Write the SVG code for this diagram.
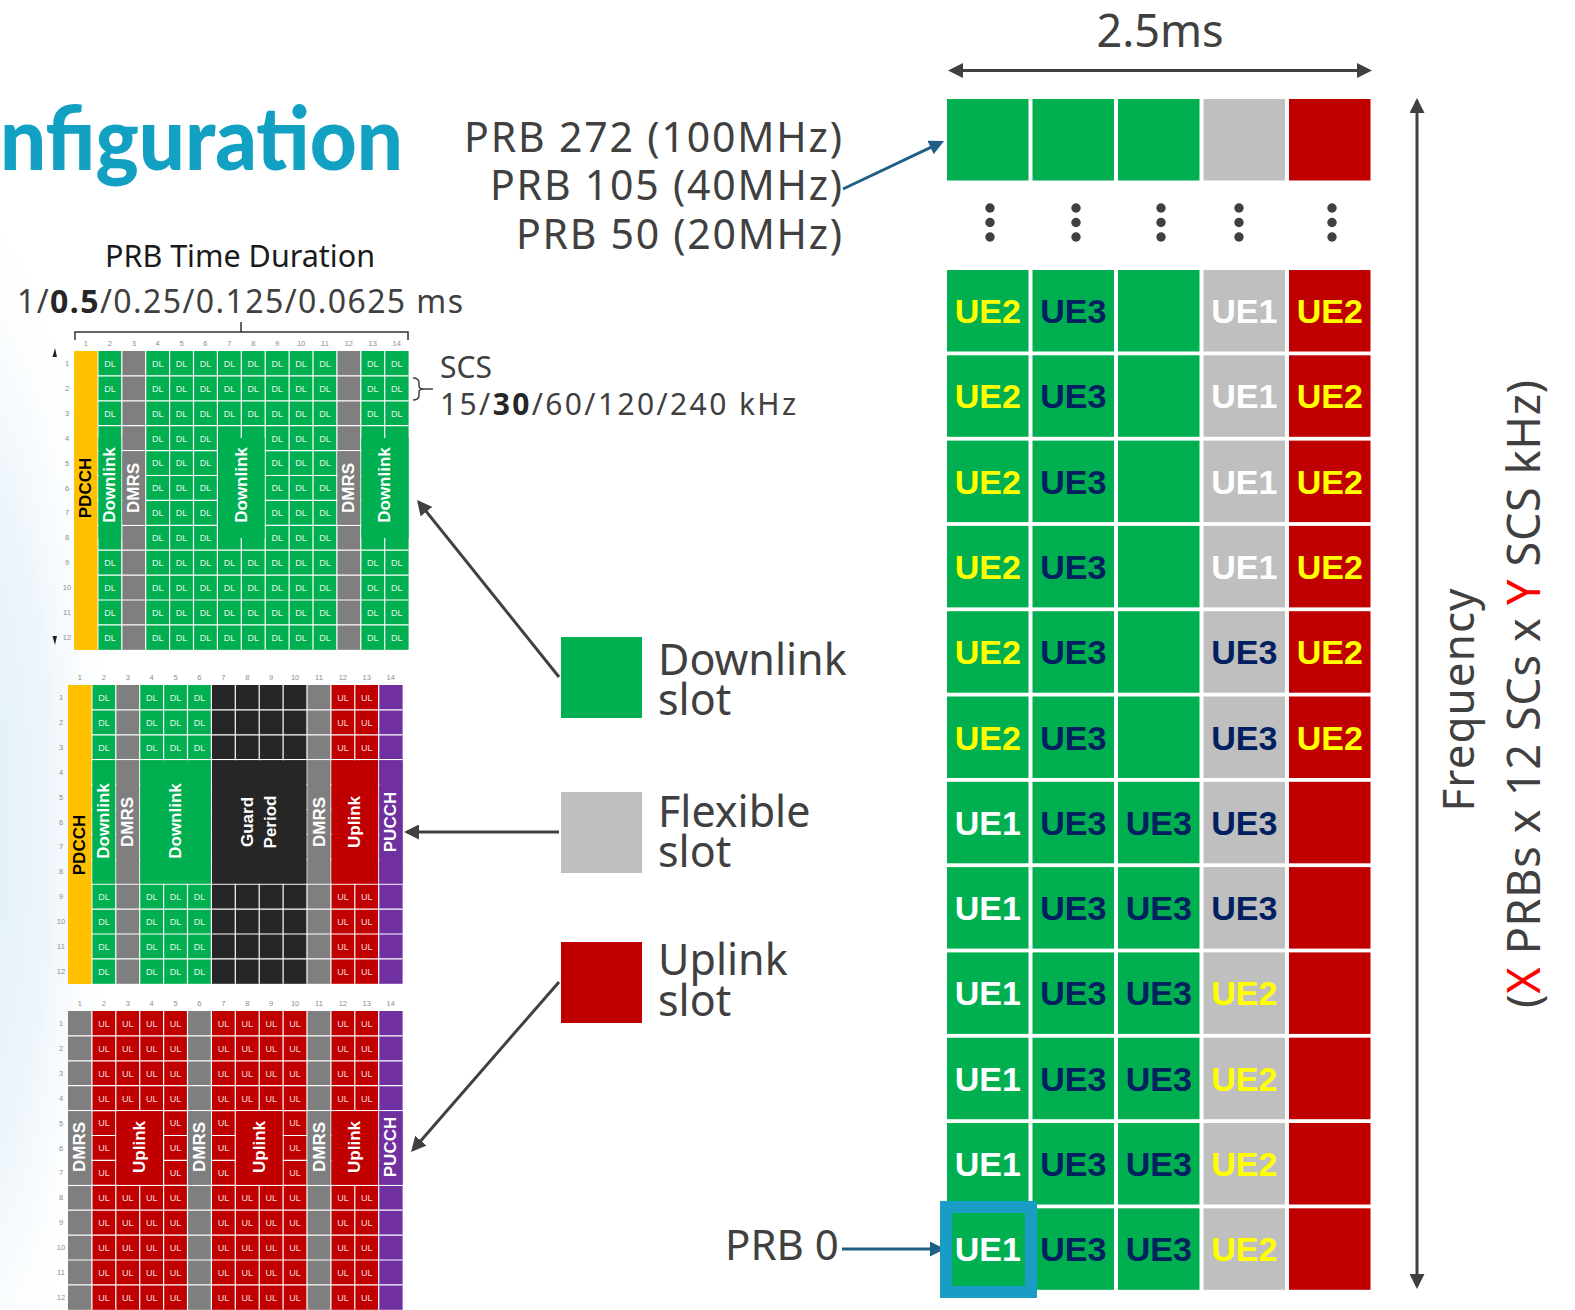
<svg xmlns="http://www.w3.org/2000/svg" width="1575" height="1310" viewBox="0 0 1575 1310">
<defs>
<style>
.t{font-family:"Noto Sans","Liberation Sans",sans-serif;fill:#404040}
.ue{font-family:"Liberation Sans",Arial,sans-serif;font-weight:bold;font-size:34px;text-anchor:middle}
.y{fill:#FFFF00}.n{fill:#002060}.w{fill:#FFFFFF}
.gr{fill:#00B050}.gy{fill:#BFBFBF}.rd{fill:#C00000}
.sgy{fill:#7F7F7F}.syl{fill:#FFC000}.spu{fill:#7030A0}.sbk{fill:#262626}
.dl{font-family:"Liberation Sans",Arial,sans-serif;font-size:9px;text-anchor:middle;fill:#E3F4E9}
.ul{font-family:"Liberation Sans",Arial,sans-serif;font-size:9px;text-anchor:middle;fill:#F7DEDE}
.num{font-family:"Liberation Sans",Arial,sans-serif;font-size:7.5px;text-anchor:middle;fill:#8C8C8C}
.lb{font-family:"Liberation Sans",Arial,sans-serif;font-weight:bold;font-size:17px;text-anchor:middle;dominant-baseline:central;fill:#FFFFFF}
.lk{fill:#000000}
.arr{stroke:#404040;stroke-width:3;fill:none}
.barr{stroke:#1F5F86;stroke-width:3;fill:none}
.gl{stroke:#FFFFFF;stroke-width:1.2;fill:none}
.dot{fill:#404040}
</style>
<marker id="ah" viewBox="0 0 10 10" refX="8" refY="5" markerWidth="5" markerHeight="5" orient="auto-start-reverse"><path d="M0,0L10,5L0,10z" fill="#404040"/></marker>
<marker id="bh" viewBox="0 0 10 10" refX="8" refY="5" markerWidth="5" markerHeight="5" orient="auto-start-reverse"><path d="M0,0L10,5L0,10z" fill="#1F5F86"/></marker>
<radialGradient id="bgg" cx="0.5" cy="0.5" r="0.5"><stop offset="0" stop-color="#DCEBF6"/><stop offset="0.6" stop-color="#E6F1F9" stop-opacity="0.7"/><stop offset="1" stop-color="#F2F8FC" stop-opacity="0"/></radialGradient>
<path id="gridl" class="gl" d="M23.9,0V298.8M47.8,0V298.8M71.7,0V298.8M95.6,0V298.8M119.5,0V298.8M143.4,0V298.8M167.3,0V298.8M191.2,0V298.8M215.1,0V298.8M239,0V298.8M262.9,0V298.8M286.8,0V298.8M310.7,0V298.8M0,24.9H334.6M0,49.8H334.6M0,74.7H334.6M0,99.6H334.6M0,124.5H334.6M0,149.4H334.6M0,174.3H334.6M0,199.2H334.6M0,224.1H334.6M0,249H334.6M0,273.9H334.6"/>
<g id="colnums"><text class="num" y="-5"><tspan x="11.95">1</tspan><tspan x="35.85">2</tspan><tspan x="59.75">3</tspan><tspan x="83.65">4</tspan><tspan x="107.55">5</tspan><tspan x="131.45">6</tspan><tspan x="155.35">7</tspan><tspan x="179.25">8</tspan><tspan x="203.15">9</tspan><tspan x="227.05">10</tspan><tspan x="250.95">11</tspan><tspan x="274.85">12</tspan><tspan x="298.75">13</tspan><tspan x="322.65">14</tspan></text></g>
<g id="rownums"><text class="num"><tspan x="-7" y="15">1</tspan><tspan x="-7" y="39.9">2</tspan><tspan x="-7" y="64.8">3</tspan><tspan x="-7" y="89.7">4</tspan><tspan x="-7" y="114.6">5</tspan><tspan x="-7" y="139.5">6</tspan><tspan x="-7" y="164.4">7</tspan><tspan x="-7" y="189.3">8</tspan><tspan x="-7" y="214.2">9</tspan><tspan x="-7" y="239.1">10</tspan><tspan x="-7" y="264">11</tspan><tspan x="-7" y="288.9">12</tspan></text></g>
<g id="prow"><rect class="gr" x="947" width="81.5" height="81.5"/><rect class="gr" x="1032.5" width="81.5" height="81.5"/><rect class="gr" x="1118" width="81.5" height="81.5"/><rect class="gy" x="1203.5" width="81.5" height="81.5"/><rect class="rd" x="1289" width="81.5" height="81.5"/></g>
</defs>

<rect x="0" y="0" width="1575" height="1310" fill="#FFFFFF"/>
<ellipse cx="-40" cy="820" rx="150" ry="620" fill="url(#bgg)"/>

<text x="0" y="170" font-family="Lato,'Liberation Sans',sans-serif" font-weight="900" font-size="88" fill="#12A0C3" textLength="403" lengthAdjust="spacingAndGlyphs">nfiguration</text>

<g id="time-duration">
<text class="t" x="240" y="267" font-size="30.5" text-anchor="middle" style="fill:#1A1A1A">PRB Time Duration</text>
<text class="t" x="17" y="313" font-size="32" textLength="446">1/<tspan font-weight="bold" style="fill:#262626">0.5</tspan>/0.25/0.125/0.0625 ms</text>
<path d="M75,340V332H408V340M241,332V322" stroke="#333333" stroke-width="1.5" fill="none"/>
</g>

<g id="scs">
<path d="M413,378Q419,378 419,383V386Q419,389 424,389H433M424,389Q419,389 419,392V395Q419,400 413,400" stroke="#404040" stroke-width="1.5" fill="none"/>
<text class="t" x="440" y="378" font-size="30">SCS</text>
<text class="t" x="440" y="415" font-size="30" textLength="356">15/<tspan font-weight="bold" style="fill:#262626">30</tspan>/60/120/240 kHz</text>
</g>

<path d="M55,348L52.5,357L57,357Z" fill="#222222"/>
<path d="M55,645L52.5,636L57,636Z" fill="#222222"/>

<!-- Grid 1: downlink slot -->
<g id="slot-dl" transform="translate(74,351)">
<use href="#colnums"/><use href="#rownums"/>
<rect class="syl" x="0" y="0" width="23.9" height="298.8"/>
<rect class="gr" x="23.9" y="0" width="23.9" height="298.8"/>
<rect class="sgy" x="47.8" y="0" width="23.9" height="298.8"/>
<rect class="gr" x="71.7" y="0" width="191.2" height="298.8"/>
<rect class="sgy" x="262.9" y="0" width="23.9" height="298.8"/>
<rect class="gr" x="286.8" y="0" width="47.8" height="298.8"/>
<use href="#gridl"/>
<rect class="syl" x="0" y="0" width="23.3" height="298.8"/>
<rect class="gr" x="24.5" y="87" width="22.7" height="100"/>
<rect class="sgy" x="48.4" y="100.2" width="22.7" height="73.5"/>
<rect class="gr" x="144" y="87" width="46.6" height="100"/>
<rect class="sgy" x="263.5" y="100.2" width="22.7" height="73.5"/>
<rect class="gr" x="287.4" y="87" width="47.2" height="100"/>
<text class="dl" y="15.8"><tspan x="35.9">DL</tspan><tspan x="83.7">DL</tspan><tspan x="107.6">DL</tspan><tspan x="131.5">DL</tspan><tspan x="155.4">DL</tspan><tspan x="179.3">DL</tspan><tspan x="203.2">DL</tspan><tspan x="227.1">DL</tspan><tspan x="251">DL</tspan><tspan x="298.8">DL</tspan><tspan x="322.7">DL</tspan></text>
<text class="dl" y="40.7"><tspan x="35.9">DL</tspan><tspan x="83.7">DL</tspan><tspan x="107.6">DL</tspan><tspan x="131.5">DL</tspan><tspan x="155.4">DL</tspan><tspan x="179.3">DL</tspan><tspan x="203.2">DL</tspan><tspan x="227.1">DL</tspan><tspan x="251">DL</tspan><tspan x="298.8">DL</tspan><tspan x="322.7">DL</tspan></text>
<text class="dl" y="65.6"><tspan x="35.9">DL</tspan><tspan x="83.7">DL</tspan><tspan x="107.6">DL</tspan><tspan x="131.5">DL</tspan><tspan x="155.4">DL</tspan><tspan x="179.3">DL</tspan><tspan x="203.2">DL</tspan><tspan x="227.1">DL</tspan><tspan x="251">DL</tspan><tspan x="298.8">DL</tspan><tspan x="322.7">DL</tspan></text>
<text class="dl" y="90.5"><tspan x="83.7">DL</tspan><tspan x="107.6">DL</tspan><tspan x="131.5">DL</tspan><tspan x="203.2">DL</tspan><tspan x="227.1">DL</tspan><tspan x="251">DL</tspan></text>
<text class="dl" y="115.4"><tspan x="83.7">DL</tspan><tspan x="107.6">DL</tspan><tspan x="131.5">DL</tspan><tspan x="203.2">DL</tspan><tspan x="227.1">DL</tspan><tspan x="251">DL</tspan></text>
<text class="dl" y="140.3"><tspan x="83.7">DL</tspan><tspan x="107.6">DL</tspan><tspan x="131.5">DL</tspan><tspan x="203.2">DL</tspan><tspan x="227.1">DL</tspan><tspan x="251">DL</tspan></text>
<text class="dl" y="165.2"><tspan x="83.7">DL</tspan><tspan x="107.6">DL</tspan><tspan x="131.5">DL</tspan><tspan x="203.2">DL</tspan><tspan x="227.1">DL</tspan><tspan x="251">DL</tspan></text>
<text class="dl" y="190.1"><tspan x="83.7">DL</tspan><tspan x="107.6">DL</tspan><tspan x="131.5">DL</tspan><tspan x="203.2">DL</tspan><tspan x="227.1">DL</tspan><tspan x="251">DL</tspan></text>
<text class="dl" y="215"><tspan x="35.9">DL</tspan><tspan x="83.7">DL</tspan><tspan x="107.6">DL</tspan><tspan x="131.5">DL</tspan><tspan x="155.4">DL</tspan><tspan x="179.3">DL</tspan><tspan x="203.2">DL</tspan><tspan x="227.1">DL</tspan><tspan x="251">DL</tspan><tspan x="298.8">DL</tspan><tspan x="322.7">DL</tspan></text>
<text class="dl" y="239.9"><tspan x="35.9">DL</tspan><tspan x="83.7">DL</tspan><tspan x="107.6">DL</tspan><tspan x="131.5">DL</tspan><tspan x="155.4">DL</tspan><tspan x="179.3">DL</tspan><tspan x="203.2">DL</tspan><tspan x="227.1">DL</tspan><tspan x="251">DL</tspan><tspan x="298.8">DL</tspan><tspan x="322.7">DL</tspan></text>
<text class="dl" y="264.8"><tspan x="35.9">DL</tspan><tspan x="83.7">DL</tspan><tspan x="107.6">DL</tspan><tspan x="131.5">DL</tspan><tspan x="155.4">DL</tspan><tspan x="179.3">DL</tspan><tspan x="203.2">DL</tspan><tspan x="227.1">DL</tspan><tspan x="251">DL</tspan><tspan x="298.8">DL</tspan><tspan x="322.7">DL</tspan></text>
<text class="dl" y="289.7"><tspan x="35.9">DL</tspan><tspan x="83.7">DL</tspan><tspan x="107.6">DL</tspan><tspan x="131.5">DL</tspan><tspan x="155.4">DL</tspan><tspan x="179.3">DL</tspan><tspan x="203.2">DL</tspan><tspan x="227.1">DL</tspan><tspan x="251">DL</tspan><tspan x="298.8">DL</tspan><tspan x="322.7">DL</tspan></text>
<text class="lb lk" transform="translate(11.95,137) rotate(-90)">PDCCH</text>
<text class="lb" transform="translate(35.9,134) rotate(-90)">Downlink</text>
<text class="lb" transform="translate(59.8,137) rotate(-90)">DMRS</text>
<text class="lb" transform="translate(167.3,134) rotate(-90)">Downlink</text>
<text class="lb" transform="translate(274.9,137) rotate(-90)">DMRS</text>
<text class="lb" transform="translate(310.7,134) rotate(-90)">Downlink</text>
</g>

<!-- Grid 2: flexible slot -->
<g id="slot-flex" transform="translate(68,685)">
<use href="#colnums"/><use href="#rownums"/>
<rect class="syl" x="0" y="0" width="23.9" height="298.8"/>
<rect class="gr" x="23.9" y="0" width="23.9" height="298.8"/>
<rect class="sgy" x="47.8" y="0" width="23.9" height="298.8"/>
<rect class="gr" x="71.7" y="0" width="71.7" height="298.8"/>
<rect class="sbk" x="143.4" y="0" width="95.6" height="298.8"/>
<rect class="sgy" x="239" y="0" width="23.9" height="298.8"/>
<rect class="rd" x="262.9" y="0" width="47.8" height="298.8"/>
<rect class="spu" x="310.7" y="0" width="23.9" height="298.8"/>
<use href="#gridl"/>
<rect class="syl" x="0" y="0" width="23.3" height="298.8"/>
<rect class="gr" x="24.5" y="75.3" width="22.7" height="123.3"/>
<rect class="sgy" x="48.4" y="75.3" width="22.7" height="123.3"/>
<rect class="gr" x="72.3" y="75.3" width="70.5" height="123.3"/>
<rect class="sbk" x="144" y="75.3" width="94.4" height="123.3"/>
<rect class="sgy" x="239.6" y="75.3" width="22.7" height="123.3"/>
<rect class="rd" x="263.5" y="75.3" width="46.6" height="123.3"/>
<rect class="spu" x="311.3" y="75.3" width="23.3" height="123.3"/>
<text class="dl" y="15.8"><tspan x="35.9">DL</tspan><tspan x="83.7">DL</tspan><tspan x="107.6">DL</tspan><tspan x="131.5">DL</tspan></text>
<text class="dl" y="40.7"><tspan x="35.9">DL</tspan><tspan x="83.7">DL</tspan><tspan x="107.6">DL</tspan><tspan x="131.5">DL</tspan></text>
<text class="dl" y="65.6"><tspan x="35.9">DL</tspan><tspan x="83.7">DL</tspan><tspan x="107.6">DL</tspan><tspan x="131.5">DL</tspan></text>
<text class="dl" y="215"><tspan x="35.9">DL</tspan><tspan x="83.7">DL</tspan><tspan x="107.6">DL</tspan><tspan x="131.5">DL</tspan></text>
<text class="dl" y="239.9"><tspan x="35.9">DL</tspan><tspan x="83.7">DL</tspan><tspan x="107.6">DL</tspan><tspan x="131.5">DL</tspan></text>
<text class="dl" y="264.8"><tspan x="35.9">DL</tspan><tspan x="83.7">DL</tspan><tspan x="107.6">DL</tspan><tspan x="131.5">DL</tspan></text>
<text class="dl" y="289.7"><tspan x="35.9">DL</tspan><tspan x="83.7">DL</tspan><tspan x="107.6">DL</tspan><tspan x="131.5">DL</tspan></text>
<text class="ul" y="15.8"><tspan x="274.9">UL</tspan><tspan x="298.8">UL</tspan></text>
<text class="ul" y="40.7"><tspan x="274.9">UL</tspan><tspan x="298.8">UL</tspan></text>
<text class="ul" y="65.6"><tspan x="274.9">UL</tspan><tspan x="298.8">UL</tspan></text>
<text class="ul" y="215"><tspan x="274.9">UL</tspan><tspan x="298.8">UL</tspan></text>
<text class="ul" y="239.9"><tspan x="274.9">UL</tspan><tspan x="298.8">UL</tspan></text>
<text class="ul" y="264.8"><tspan x="274.9">UL</tspan><tspan x="298.8">UL</tspan></text>
<text class="ul" y="289.7"><tspan x="274.9">UL</tspan><tspan x="298.8">UL</tspan></text>
<text class="lb lk" transform="translate(11.95,160) rotate(-90)" font-size="18.5">PDCCH</text>
<text class="lb" transform="translate(35.9,136) rotate(-90)" font-size="17.5">Downlink</text>
<text class="lb" transform="translate(59.8,137) rotate(-90)">DMRS</text>
<text class="lb" transform="translate(107.6,136) rotate(-90)" font-size="17.5">Downlink</text>
<text class="lb" transform="translate(179.7,137) rotate(-90)">Guard</text>
<text class="lb" transform="translate(202.7,137) rotate(-90)">Period</text>
<text class="lb" transform="translate(251,137) rotate(-90)">DMRS</text>
<text class="lb" transform="translate(286.8,137) rotate(-90)" font-size="18">Uplink</text>
<text class="lb" transform="translate(322.7,137) rotate(-90)">PUCCH</text>
</g>

<!-- Grid 3: uplink slot -->
<g id="slot-ul" transform="translate(68,1011)">
<use href="#colnums"/><use href="#rownums"/>
<rect class="sgy" x="0" y="0" width="23.9" height="298.8"/>
<rect class="rd" x="23.9" y="0" width="95.6" height="298.8"/>
<rect class="sgy" x="119.5" y="0" width="23.9" height="298.8"/>
<rect class="rd" x="143.4" y="0" width="95.6" height="298.8"/>
<rect class="sgy" x="239" y="0" width="23.9" height="298.8"/>
<rect class="rd" x="262.9" y="0" width="47.8" height="298.8"/>
<rect class="spu" x="310.7" y="0" width="23.9" height="298.8"/>
<use href="#gridl"/>
<rect class="sgy" x="0" y="100.2" width="23.3" height="73.5"/>
<rect class="rd" x="48.4" y="100.2" width="46.6" height="73.5"/>
<rect class="sgy" x="120.1" y="100.2" width="22.7" height="73.5"/>
<rect class="rd" x="167.9" y="100.2" width="46.6" height="73.5"/>
<rect class="sgy" x="239.6" y="100.2" width="22.7" height="73.5"/>
<rect class="rd" x="263.5" y="100.2" width="46.6" height="73.5"/>
<rect class="spu" x="311.3" y="100.2" width="23.3" height="73.5"/>
<text class="ul" y="15.8"><tspan x="35.9">UL</tspan><tspan x="59.8">UL</tspan><tspan x="83.7">UL</tspan><tspan x="107.6">UL</tspan><tspan x="155.4">UL</tspan><tspan x="179.3">UL</tspan><tspan x="203.2">UL</tspan><tspan x="227.1">UL</tspan><tspan x="274.9">UL</tspan><tspan x="298.8">UL</tspan></text>
<text class="ul" y="40.7"><tspan x="35.9">UL</tspan><tspan x="59.8">UL</tspan><tspan x="83.7">UL</tspan><tspan x="107.6">UL</tspan><tspan x="155.4">UL</tspan><tspan x="179.3">UL</tspan><tspan x="203.2">UL</tspan><tspan x="227.1">UL</tspan><tspan x="274.9">UL</tspan><tspan x="298.8">UL</tspan></text>
<text class="ul" y="65.6"><tspan x="35.9">UL</tspan><tspan x="59.8">UL</tspan><tspan x="83.7">UL</tspan><tspan x="107.6">UL</tspan><tspan x="155.4">UL</tspan><tspan x="179.3">UL</tspan><tspan x="203.2">UL</tspan><tspan x="227.1">UL</tspan><tspan x="274.9">UL</tspan><tspan x="298.8">UL</tspan></text>
<text class="ul" y="90.5"><tspan x="35.9">UL</tspan><tspan x="59.8">UL</tspan><tspan x="83.7">UL</tspan><tspan x="107.6">UL</tspan><tspan x="155.4">UL</tspan><tspan x="179.3">UL</tspan><tspan x="203.2">UL</tspan><tspan x="227.1">UL</tspan><tspan x="274.9">UL</tspan><tspan x="298.8">UL</tspan></text>
<text class="ul" y="115.4"><tspan x="35.9">UL</tspan><tspan x="107.6">UL</tspan><tspan x="155.4">UL</tspan><tspan x="227.1">UL</tspan></text>
<text class="ul" y="140.3"><tspan x="35.9">UL</tspan><tspan x="107.6">UL</tspan><tspan x="155.4">UL</tspan><tspan x="227.1">UL</tspan></text>
<text class="ul" y="165.2"><tspan x="35.9">UL</tspan><tspan x="107.6">UL</tspan><tspan x="155.4">UL</tspan><tspan x="227.1">UL</tspan></text>
<text class="ul" y="190.1"><tspan x="35.9">UL</tspan><tspan x="59.8">UL</tspan><tspan x="83.7">UL</tspan><tspan x="107.6">UL</tspan><tspan x="155.4">UL</tspan><tspan x="179.3">UL</tspan><tspan x="203.2">UL</tspan><tspan x="227.1">UL</tspan><tspan x="274.9">UL</tspan><tspan x="298.8">UL</tspan></text>
<text class="ul" y="215"><tspan x="35.9">UL</tspan><tspan x="59.8">UL</tspan><tspan x="83.7">UL</tspan><tspan x="107.6">UL</tspan><tspan x="155.4">UL</tspan><tspan x="179.3">UL</tspan><tspan x="203.2">UL</tspan><tspan x="227.1">UL</tspan><tspan x="274.9">UL</tspan><tspan x="298.8">UL</tspan></text>
<text class="ul" y="239.9"><tspan x="35.9">UL</tspan><tspan x="59.8">UL</tspan><tspan x="83.7">UL</tspan><tspan x="107.6">UL</tspan><tspan x="155.4">UL</tspan><tspan x="179.3">UL</tspan><tspan x="203.2">UL</tspan><tspan x="227.1">UL</tspan><tspan x="274.9">UL</tspan><tspan x="298.8">UL</tspan></text>
<text class="ul" y="264.8"><tspan x="35.9">UL</tspan><tspan x="59.8">UL</tspan><tspan x="83.7">UL</tspan><tspan x="107.6">UL</tspan><tspan x="155.4">UL</tspan><tspan x="179.3">UL</tspan><tspan x="203.2">UL</tspan><tspan x="227.1">UL</tspan><tspan x="274.9">UL</tspan><tspan x="298.8">UL</tspan></text>
<text class="ul" y="289.7"><tspan x="35.9">UL</tspan><tspan x="59.8">UL</tspan><tspan x="83.7">UL</tspan><tspan x="107.6">UL</tspan><tspan x="155.4">UL</tspan><tspan x="179.3">UL</tspan><tspan x="203.2">UL</tspan><tspan x="227.1">UL</tspan><tspan x="274.9">UL</tspan><tspan x="298.8">UL</tspan></text>
<text class="lb" transform="translate(11.95,136) rotate(-90)">DMRS</text>
<text class="lb" transform="translate(71.7,136) rotate(-90)" font-size="18">Uplink</text>
<text class="lb" transform="translate(131.5,136) rotate(-90)">DMRS</text>
<text class="lb" transform="translate(191.2,136) rotate(-90)" font-size="18">Uplink</text>
<text class="lb" transform="translate(251,136) rotate(-90)">DMRS</text>
<text class="lb" transform="translate(286.8,136) rotate(-90)" font-size="18">Uplink</text>
<text class="lb" transform="translate(322.7,136) rotate(-90)">PUCCH</text>
</g>

<!-- Legend -->
<g id="legend-dl"><rect class="gr" x="561" y="637" width="81" height="81"/><text class="t" font-size="43"><tspan x="658" y="675">Downlink</tspan><tspan x="658" y="715">slot</tspan></text></g>
<g id="legend-flex"><rect class="gy" x="561" y="792" width="81" height="81"/><text class="t" font-size="43"><tspan x="658" y="827">Flexible</tspan><tspan x="658" y="867">slot</tspan></text></g>
<g id="legend-ul"><rect class="rd" x="561" y="942" width="81" height="81"/><text class="t" font-size="43"><tspan x="658" y="975">Uplink</tspan><tspan x="658" y="1016">slot</tspan></text></g>

<!-- PRB labels -->
<g id="prb-labels">
<text class="t" x="842" y="152" font-size="41" text-anchor="end" textLength="378">PRB 272 (100MHz)</text>
<text class="t" x="842" y="200" font-size="41" text-anchor="end" textLength="352">PRB 105 (40MHz)</text>
<text class="t" x="842" y="249" font-size="41" text-anchor="end" textLength="326">PRB 50 (20MHz)</text>
<text class="t" x="725" y="1260" font-size="42">PRB 0</text>
</g>

<!-- Resource grid -->
<g id="prb-top"><use href="#prow" y="99"/></g>
<g id="dots">
<circle class="dot" cx="990" cy="208" r="4.7"/><circle class="dot" cx="990" cy="222.5" r="4.7"/><circle class="dot" cx="990" cy="237" r="4.7"/>
<circle class="dot" cx="1076" cy="208" r="4.7"/><circle class="dot" cx="1076" cy="222.5" r="4.7"/><circle class="dot" cx="1076" cy="237" r="4.7"/>
<circle class="dot" cx="1161" cy="208" r="4.7"/><circle class="dot" cx="1161" cy="222.5" r="4.7"/><circle class="dot" cx="1161" cy="237" r="4.7"/>
<circle class="dot" cx="1239" cy="208" r="4.7"/><circle class="dot" cx="1239" cy="222.5" r="4.7"/><circle class="dot" cx="1239" cy="237" r="4.7"/>
<circle class="dot" cx="1332" cy="208" r="4.7"/><circle class="dot" cx="1332" cy="222.5" r="4.7"/><circle class="dot" cx="1332" cy="237" r="4.7"/>
</g>
<g id="prb-row-1"><use href="#prow" y="270"/><text class="ue y" x="987.75" y="323">UE2</text><text class="ue n" x="1073.25" y="323">UE3</text><text class="ue w" x="1244.25" y="323">UE1</text><text class="ue y" x="1329.75" y="323">UE2</text></g>
<g id="prb-row-2"><use href="#prow" y="355.3"/><text class="ue y" x="987.75" y="408.3">UE2</text><text class="ue n" x="1073.25" y="408.3">UE3</text><text class="ue w" x="1244.25" y="408.3">UE1</text><text class="ue y" x="1329.75" y="408.3">UE2</text></g>
<g id="prb-row-3"><use href="#prow" y="440.6"/><text class="ue y" x="987.75" y="493.6">UE2</text><text class="ue n" x="1073.25" y="493.6">UE3</text><text class="ue w" x="1244.25" y="493.6">UE1</text><text class="ue y" x="1329.75" y="493.6">UE2</text></g>
<g id="prb-row-4"><use href="#prow" y="525.9"/><text class="ue y" x="987.75" y="578.9">UE2</text><text class="ue n" x="1073.25" y="578.9">UE3</text><text class="ue w" x="1244.25" y="578.9">UE1</text><text class="ue y" x="1329.75" y="578.9">UE2</text></g>
<g id="prb-row-5"><use href="#prow" y="611.2"/><text class="ue y" x="987.75" y="664.2">UE2</text><text class="ue n" x="1073.25" y="664.2">UE3</text><text class="ue n" x="1244.25" y="664.2">UE3</text><text class="ue y" x="1329.75" y="664.2">UE2</text></g>
<g id="prb-row-6"><use href="#prow" y="696.5"/><text class="ue y" x="987.75" y="749.5">UE2</text><text class="ue n" x="1073.25" y="749.5">UE3</text><text class="ue n" x="1244.25" y="749.5">UE3</text><text class="ue y" x="1329.75" y="749.5">UE2</text></g>
<g id="prb-row-7"><use href="#prow" y="781.8"/><text class="ue w" x="987.75" y="834.8">UE1</text><text class="ue n" x="1073.25" y="834.8">UE3</text><text class="ue n" x="1158.75" y="834.8">UE3</text><text class="ue n" x="1244.25" y="834.8">UE3</text></g>
<g id="prb-row-8"><use href="#prow" y="867.1"/><text class="ue w" x="987.75" y="920.1">UE1</text><text class="ue n" x="1073.25" y="920.1">UE3</text><text class="ue n" x="1158.75" y="920.1">UE3</text><text class="ue n" x="1244.25" y="920.1">UE3</text></g>
<g id="prb-row-9"><use href="#prow" y="952.4"/><text class="ue w" x="987.75" y="1005.4">UE1</text><text class="ue n" x="1073.25" y="1005.4">UE3</text><text class="ue n" x="1158.75" y="1005.4">UE3</text><text class="ue y" x="1244.25" y="1005.4">UE2</text></g>
<g id="prb-row-10"><use href="#prow" y="1037.7"/><text class="ue w" x="987.75" y="1090.7">UE1</text><text class="ue n" x="1073.25" y="1090.7">UE3</text><text class="ue n" x="1158.75" y="1090.7">UE3</text><text class="ue y" x="1244.25" y="1090.7">UE2</text></g>
<g id="prb-row-11"><use href="#prow" y="1123"/><text class="ue w" x="987.75" y="1176">UE1</text><text class="ue n" x="1073.25" y="1176">UE3</text><text class="ue n" x="1158.75" y="1176">UE3</text><text class="ue y" x="1244.25" y="1176">UE2</text></g>
<g id="prb-row-12"><use href="#prow" y="1208.3"/><text class="ue w" x="987.75" y="1261.3">UE1</text><text class="ue n" x="1073.25" y="1261.3">UE3</text><text class="ue n" x="1158.75" y="1261.3">UE3</text><text class="ue y" x="1244.25" y="1261.3">UE2</text></g>

<g id="axes">
<text class="t" x="1160" y="47" font-size="45" text-anchor="middle">2.5ms</text>
<text class="t" transform="translate(1474,700) rotate(-90)" font-size="44" text-anchor="middle" textLength="223">Frequency</text>
<text class="t" transform="translate(1540,694) rotate(-90)" font-size="45" text-anchor="middle" textLength="628">(<tspan style="fill:#FF0000">X</tspan> PRBs x 12 SCs x <tspan style="fill:#FF0000">Y</tspan> SCS kHz)</text>
</g>

<g id="connectors">
<line class="arr" x1="951" y1="70.5" x2="1369" y2="70.5" marker-start="url(#ah)" marker-end="url(#ah)"/>
<line class="arr" x1="1417" y1="101" x2="1417" y2="1286" marker-start="url(#ah)" marker-end="url(#ah)"/>
<line class="arr" x1="559" y1="677" x2="418.9" y2="502.3" marker-end="url(#ah)"/>
<line class="arr" x1="559" y1="832" x2="407" y2="832" marker-end="url(#ah)"/>
<line class="arr" x1="559" y1="982" x2="413" y2="1149.7" marker-end="url(#ah)"/>
<line class="barr" x1="843" y1="189" x2="941.3" y2="142.3" marker-end="url(#bh)"/>
<line class="barr" x1="842" y1="1249" x2="942" y2="1249" marker-end="url(#bh)"/>
</g>

<g id="prb0-highlight"><rect x="946" y="1207" width="85" height="85" fill="none" stroke="#1A9DC4" stroke-width="12"/></g>
</svg>
